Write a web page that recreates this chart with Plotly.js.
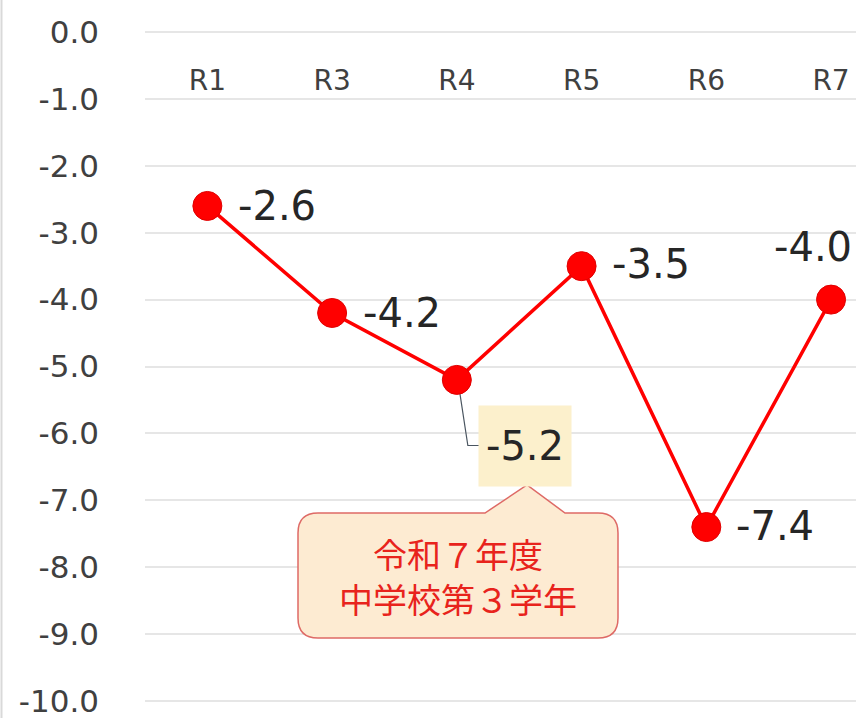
<!DOCTYPE html>
<html><head><meta charset="utf-8">
<script src="https://cdn.plot.ly/plotly-3.0.1.min.js"></script>
<style>html,body{margin:0;padding:0;background:#fff}</style>
</head><body><div id="chart" style="width:856px;height:718px"></div>
<script>
// ---- data ----
const categories = ['R1','R3','R4','R5','R6','R7'];
const values = [-2.6,-4.2,-5.2,-3.5,-7.4,-4.0];
const yTickValues = [0,-1,-2,-3,-4,-5,-6,-7,-8,-9,-10];
const yTickLabels = yTickValues.map(v => v.toFixed(1));
const calloutLines = ['令和７年度','中学校第３学年'];

// ---- layout helpers ----
const W=856, H=718, L=145, R=0, T=30, B=15;
const pw = W-L-R, ph = H-T-B;
const px = x => (x-L)/pw;
const py = y => (H-B-y)/ph;
const font = '"DejaVu Sans", Verdana, sans-serif';
const cjk = '"Noto Sans CJK JP", "Noto Sans CJK SC", sans-serif';

// label placement styles per point (pixel shifts)
const labelStyle = [
  {xanchor:'left', xshift:29, yshift:0},
  {xanchor:'left', xshift:29, yshift:0},
  null,
  {xanchor:'left', xshift:28, yshift:2},
  {xanchor:'left', xshift:28, yshift:1},
  {xanchor:'center', xshift:-18, yshift:53}
];

const annotations = [];
values.forEach((v,i) => {
  const s = labelStyle[i];
  if (!s) return;
  annotations.push({x:categories[i], y:v, xref:'x', yref:'y', text:v.toFixed(1),
    showarrow:false, xanchor:s.xanchor, yanchor:'middle', xshift:s.xshift, yshift:s.yshift,
    font:{family:font, size:40, color:'#262626'}});
});
// boxed label for R4
annotations.push({x:categories[2], y:values[2], xref:'x', yref:'y', text:values[2].toFixed(1),
  showarrow:false, xanchor:'center', yanchor:'middle', xshift:68, yshift:-66,
  width:92, height:80, bgcolor:'#fcf0cc', borderpad:0,
  font:{family:font, size:40, color:'#262626'}});
// callout text (one annotation per line)
const calloutY = [553, 598];
calloutLines.forEach((t, k) => {
  annotations.push({x:px(458), y:py(calloutY[k]), xref:'paper', yref:'paper', text:t,
    showarrow:false, xanchor:'center', yanchor:'middle', height:42, borderpad:0,
    font:{family:cjk, size:34, color:'#e8231c'}});
});

const cpath = [
  `M${px(318)},${py(513)}`, `L${px(485)},${py(513)}`, `L${px(527)},${py(485)}`, `L${px(565)},${py(513)}`,
  `L${px(598)},${py(513)}`, `Q${px(618)},${py(513)} ${px(618)},${py(533)}`,
  `L${px(618)},${py(618)}`, `Q${px(618)},${py(638)} ${px(598)},${py(638)}`,
  `L${px(318)},${py(638)}`, `Q${px(298)},${py(638)} ${px(298)},${py(618)}`,
  `L${px(298)},${py(533)}`, `Q${px(298)},${py(513)} ${px(318)},${py(513)}`, 'Z'
].join(' ');

const catW = 124.8, unitH = 67.3;
const i4 = 2, v4 = values[2];
const leader = `M${i4+1/catW},${v4} L${i4+11/catW},${v4-66/unitH} L${i4+23/catW},${v4-66/unitH}`;

const shapes = [
  {type:'line', xref:'paper', yref:'paper', x0:px(1.5), x1:px(1.5), y0:py(0), y1:py(718),
   line:{color:'#d9d9d9', width:2}},
  {type:'path', xref:'x', yref:'y', path:leader, layer:'between', line:{color:'#4a5560', width:1.2}},
  {type:'path', xref:'paper', yref:'paper', path:cpath, fillcolor:'#fdebd2',
   line:{color:'#de6a66', width:1.5}}
];

const trace = {
  x: categories, y: values, type:'scatter', mode:'lines+markers',
  line:{color:'#ff0000', width:3.5},
  marker:{size:29, color:'#ff0000', line:{color:'#e00000', width:1}},
  cliponaxis:false, hoverinfo:'skip'
};

const layout = {
  width:W, height:H, margin:{l:L, r:R, t:T, b:B, pad:0},
  paper_bgcolor:'#ffffff', plot_bgcolor:'#ffffff', showlegend:false,
  xaxis:{type:'category', categoryorder:'array', categoryarray:categories,
    range:[-0.5, 5.2], anchor:'free', position:py(61), side:'bottom',
    showgrid:false, zeroline:false, showline:false, ticks:'',
    tickfont:{family:font, size:28, color:'#404040'}},
  yaxis:{range:[-10.03, 0.03], tickvals:yTickValues, ticktext:yTickLabels, anchor:'free', position:0,
    showgrid:true, gridcolor:'#e6e6e6', gridwidth:2, zeroline:false, showline:false, ticks:'',
    ticklabelstandoff:46, ticklabeloverflow:'allow',
    tickfont:{family:font, size:31, color:'#404040'}},
  shapes, annotations
};

Plotly.newPlot('chart', [trace], layout, {staticPlot:true, displayModeBar:false});
</script></body></html>
